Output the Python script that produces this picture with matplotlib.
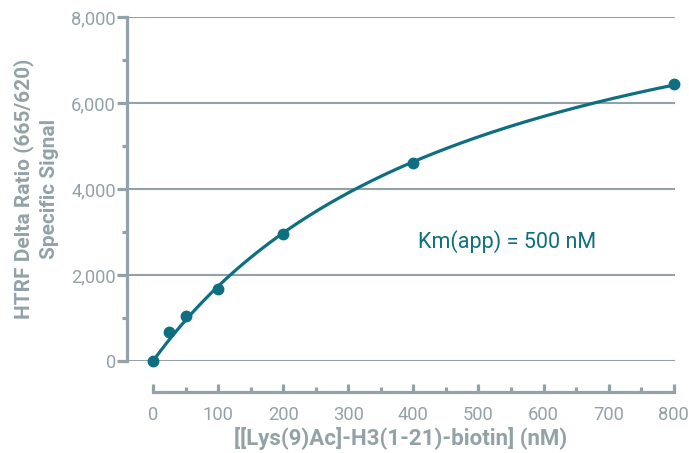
import matplotlib
matplotlib.use('Agg')
import matplotlib.pyplot as plt
import numpy as np

# substrate concentration (nM) and specific signal
conc = np.array([0, 25, 50, 100, 200, 400, 800])
signal = np.array([0, 680, 1045, 1670, 2950, 4600, 6445])
km_app = 500
x_ticks = [0, 100, 200, 300, 400, 500, 600, 700, 800]
y_ticks = [0, 2000, 4000, 6000, 8000]

teal = '#0d6f7f'
grey = '#93a2a7'
plt.rcParams['font.family'] = ['Roboto', 'DejaVu Sans']

# Michaelis-Menten fit with fixed Km -> least squares Vmax
f = conc / (km_app + conc)
vmax = np.sum(signal * f) / np.sum(f * f)
xs = np.linspace(0, 800, 300)
ys = vmax * xs / (km_app + xs)

fig = plt.figure(figsize=(6.89, 4.53), dpi=100)
W, H = 689, 453
ax = fig.add_axes([127 / W, 1 - 361 / H, (675 - 127) / W, (361 - 17) / H])
ax.set_xlim(-40, 802)
ax.set_ylim(0, 8000)

ax.plot(xs, ys, color=teal, lw=2.3, clip_on=False, zorder=3)
ax.plot(conc, signal, 'o', color=teal, ms=7.5, clip_on=False, zorder=4)

ax.set_yticks(y_ticks)
ax.set_yticklabels(['{:,}'.format(v) for v in y_ticks])
ax.set_yticks([1000, 3000, 5000, 7000], minor=True)
ax.set_xticks(x_ticks)
ax.set_xticks(np.arange(50, 800, 100), minor=True)
ax.grid(axis='y', color=grey, lw=1.5)
ax.set_axisbelow(True)

for s in ['top', 'right']:
    ax.spines[s].set_visible(False)
for s in ['left', 'bottom']:
    ax.spines[s].set_color(grey)
    ax.spines[s].set_linewidth(2.3)
ax.spines['bottom'].set_position(('outward', 31 * 0.72))
ax.spines['bottom'].set_bounds(0, 800)

ax.tick_params(axis='y', which='major', direction='out', length=7, width=2.3,
               color=grey, labelcolor=grey, labelsize=13.2, pad=1)
ax.tick_params(axis='y', which='minor', direction='out', length=3.6, width=2.3, color=grey)
ax.tick_params(axis='x', which='major', direction='in', length=6, width=2.3,
               color=grey, labelcolor=grey, labelsize=13.2, pad=10)
ax.tick_params(axis='x', which='minor', direction='in', length=3.6, width=2.3, color=grey)

ax.set_xlabel('[[Lys(9)Ac]-H3(1-21)-biotin] (nM)', color=grey, fontsize=16,
              fontweight='bold', labelpad=2)
ax.set_ylabel('HTRF Delta Ratio (665/620)\nSpecific Signal', color=grey, fontsize=15,
              fontweight='bold', labelpad=9, linespacing=1.35)

ax.text(544, 2770, 'Km(app) = 500 nM', color=teal, fontsize=15.5,
        ha='center', va='center')

fig.savefig('out.png', dpi=100)
